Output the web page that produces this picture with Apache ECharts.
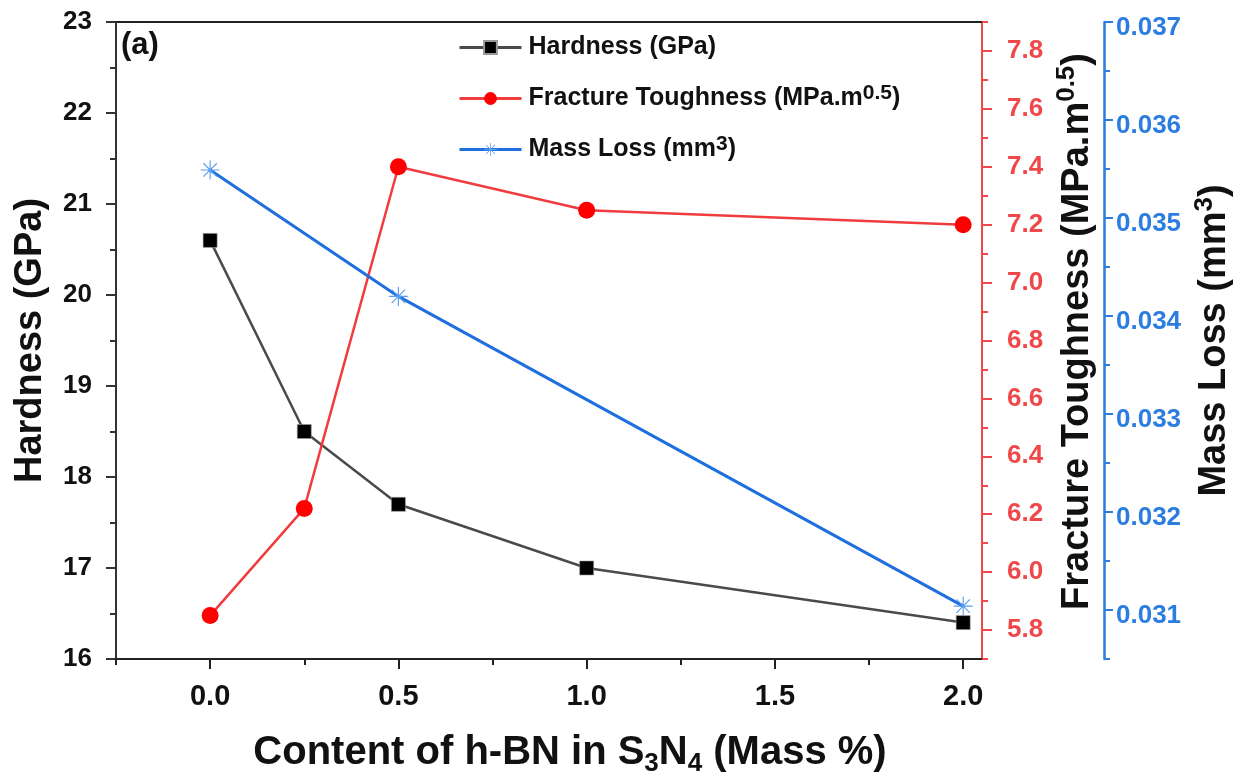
<!DOCTYPE html>
<html>
<head>
<meta charset="utf-8">
<title>Hardness / Fracture Toughness / Mass Loss</title>
<script src="https://cdn.jsdelivr.net/npm/echarts@6/dist/echarts.min.js"></script>
<style>
  html, body { margin: 0; padding: 0; background: #fff; }
</style>
</head>
<body>
<!-- container for the chart -->
<div id="main" style="width: 1234px;height: 776px;"></div>
<script>
// data
var contents = [0, 0.25, 0.5, 1.0, 2.0]
var hardness = [20.6, 18.5, 17.7, 17.0, 16.4]
var toughness = [5.85, 6.22, 7.40, 7.25, 7.20]
var massContents = [0, 0.5, 2.0]
var massLoss = [0.03549, 0.03420, 0.03104]

// tick values
var xMajorTicks = [0, 0.5, 1.0, 1.5, 2.0]
var xMinorTicks = [-0.25, 0.25, 0.75, 1.25, 1.75]
var redMajorTicks = [5.8, 6.0, 6.2, 6.4, 6.6, 6.8, 7.0, 7.2, 7.4, 7.6, 7.8]
var redMinorTicks = [5.7, 5.9, 6.1, 6.3, 6.5, 6.7, 6.9, 7.1, 7.3, 7.5, 7.7, 7.9]
var blueMajorTicks = [0.031, 0.032, 0.033, 0.034, 0.035, 0.036, 0.037]
var blueMinorTicks = [0.0305, 0.0315, 0.0325, 0.0335, 0.0345, 0.0355, 0.0365]

var FONT = "'Liberation Sans', Arial, sans-serif"
var BLACK = '#111'
var RED = '#f0484a'
var BLUE = '#2b7de0'

// asterisk marker
var STAR = 'path://M9.4 0L10.6 0L10.6 20L9.4 20Z M0 9.4L20 9.4L20 10.6L0 10.6Z M2.5 3.35L3.35 2.5L17.5 16.65L16.65 17.5Z M16.65 2.5L17.5 3.35L3.35 17.5L2.5 16.65Z'

function pairs (xs, ys) {
  return xs.map(function (x, i) { return [x, ys[i]] })
}

var legendText = {
  'Hardness (GPa)': 'Hardness (GPa)',
  'Fracture Toughness': 'Fracture Toughness (MPa.m{sup|0.5})',
  'Mass Loss': 'Mass Loss (mm{sup|3})'
}

var myChart = echarts.init(document.getElementById('main'))
var option = {
  animation: false,
  textStyle: { fontFamily: FONT },
  grid: {
    left: 116,
    right: 252,
    top: 22,
    bottom: 117,
    containLabel: false,
    outerBoundsMode: 'none'
  },
  legend: {
    orient: 'vertical',
    left: 453,
    top: 27,
    itemWidth: 62,
    itemHeight: 16,
    itemGap: 20,
    data: ['Hardness (GPa)', 'Fracture Toughness', 'Mass Loss'],
    formatter: function (name) { return legendText[name] },
    lineStyle: { width: 3 },
    textStyle: {
      fontFamily: FONT,
      fontSize: 25,
      fontWeight: 'bold',
      color: BLACK,
      lineHeight: 31,
      padding: [0, 0, 0, 2],
      rich: {
        sup: { fontFamily: FONT, fontSize: 21, fontWeight: 'bold', color: BLACK, lineHeight: 21, verticalAlign: 'top' }
      }
    }
  },
  graphic: [
    {
      type: 'text',
      left: 121,
      top: 30,
      style: { text: '(a)', fontFamily: FONT, fontSize: 31, fontWeight: 'bold', fill: BLACK }
    }
  ],
  xAxis: [
    {
      type: 'value',
      position: 'bottom',
      min: -0.25,
      max: 2.05,
      splitLine: { show: false },
      axisLine: { onZero: false, lineStyle: { color: '#222', width: 2 } },
      axisTick: { customValues: xMajorTicks, length: 10, lineStyle: { color: '#222', width: 2 } },
      axisLabel: {
        customValues: xMajorTicks,
        margin: 23,
        fontFamily: FONT,
        fontSize: 29,
        fontWeight: 'bold',
        color: BLACK,
        formatter: function (v) { return v.toFixed(1) }
      },
      name: 'Content of h-BN in S{sub|3}N{sub|4} (Mass %)',
      nameLocation: 'middle',
      nameGap: 70,
      nameTextStyle: {
        fontFamily: FONT,
        fontSize: 40,
        fontWeight: 'bold',
        color: BLACK,
        lineHeight: 48,
        padding: [0, 0, 0, 42],
        rich: {
          sub: { fontFamily: FONT, fontSize: 26, fontWeight: 'bold', color: BLACK, lineHeight: 26, verticalAlign: 'bottom' }
        }
      }
    },
    {
      // minor ticks of the bottom axis
      type: 'value',
      position: 'bottom',
      min: -0.25,
      max: 2.05,
      splitLine: { show: false },
      axisLine: { show: false, onZero: false },
      axisTick: { customValues: xMinorTicks, length: 6, lineStyle: { color: '#222', width: 2 } },
      axisLabel: { show: false }
    },
    {
      // top frame line
      type: 'value',
      position: 'top',
      min: -0.25,
      max: 2.05,
      splitLine: { show: false },
      axisLine: { onZero: false, lineStyle: { color: '#222', width: 2 } },
      axisTick: { show: false },
      axisLabel: { show: false }
    }
  ],
  yAxis: [
    {
      type: 'value',
      position: 'left',
      min: 16,
      max: 23,
      interval: 1,
      splitLine: { show: false },
      axisLine: { show: true, onZero: false, lineStyle: { color: '#333', width: 2 } },
      axisTick: { length: 10, lineStyle: { color: '#333', width: 2 } },
      minorTick: { show: true, splitNumber: 2, length: 6, lineStyle: { color: '#333', width: 2 } },
      axisLabel: { margin: 24, fontFamily: FONT, fontSize: 26, fontWeight: 'bold', color: BLACK },
      name: 'Hardness (GPa)',
      nameLocation: 'middle',
      nameRotate: 90,
      nameGap: 66,
      nameTextStyle: { fontFamily: FONT, fontSize: 38, fontWeight: 'bold', color: BLACK }
    },
    {
      type: 'value',
      position: 'right',
      min: 5.7,
      max: 7.9,
      alignTicks: false,
      splitLine: { show: false },
      axisLine: { show: true, onZero: false, lineStyle: { color: RED, width: 2 } },
      axisTick: { customValues: redMajorTicks, length: 10, lineStyle: { color: RED, width: 2 } },
      axisLabel: {
        customValues: redMajorTicks,
        margin: 25,
        fontFamily: FONT,
        fontSize: 26,
        fontWeight: 'bold',
        color: RED,
        formatter: function (v) { return v.toFixed(1) }
      },
      name: 'Fracture Toughness (MPa.m{sup|0.5})',
      nameLocation: 'middle',
      nameRotate: 90,
      nameGap: 56,
      nameTextStyle: {
        fontFamily: FONT,
        fontSize: 38,
        fontWeight: 'bold',
        color: BLACK,
        lineHeight: 46,
        padding: [0, 0, 0, 18],
        rich: {
          sup: { fontFamily: FONT, fontSize: 26, fontWeight: 'bold', color: BLACK, lineHeight: 26, verticalAlign: 'top' }
        }
      }
    },
    {
      // minor ticks of the red axis
      type: 'value',
      position: 'right',
      min: 5.7,
      max: 7.9,
      alignTicks: false,
      splitLine: { show: false },
      axisLine: { show: false, onZero: false },
      axisTick: { customValues: redMinorTicks, length: 6, lineStyle: { color: RED, width: 2 } },
      axisLabel: { show: false }
    },
    {
      type: 'value',
      position: 'right',
      offset: 122,
      min: 0.0305,
      max: 0.037,
      alignTicks: false,
      splitLine: { show: false },
      axisLine: { show: true, onZero: false, lineStyle: { color: BLUE, width: 2.5 } },
      axisTick: { customValues: blueMajorTicks, length: 9, lineStyle: { color: BLUE, width: 2 } },
      axisLabel: {
        customValues: blueMajorTicks,
        margin: 12,
        verticalAlign: 'top',
        lineHeight: 12,
        fontFamily: FONT,
        fontSize: 26,
        fontWeight: 'bold',
        color: BLUE,
        formatter: function (v) { return v.toFixed(3) }
      },
      name: 'Mass Loss (mm{sup|3})',
      nameLocation: 'middle',
      nameRotate: 90,
      nameGap: 75,
      nameTextStyle: {
        fontFamily: FONT,
        fontSize: 38,
        fontWeight: 'bold',
        color: BLACK,
        lineHeight: 46,
        rich: {
          sup: { fontFamily: FONT, fontSize: 26, fontWeight: 'bold', color: BLACK, lineHeight: 26, verticalAlign: 'top' }
        }
      }
    },
    {
      // minor ticks of the blue axis
      type: 'value',
      position: 'right',
      offset: 122,
      min: 0.0305,
      max: 0.037,
      alignTicks: false,
      splitLine: { show: false },
      axisLine: { show: false, onZero: false },
      axisTick: { customValues: blueMinorTicks, length: 6, lineStyle: { color: BLUE, width: 2 } },
      axisLabel: { show: false }
    }
  ],
  series: [
    {
      name: 'Hardness (GPa)',
      type: 'line',
      xAxisIndex: 0,
      yAxisIndex: 0,
      symbol: 'rect',
      symbolSize: 14,
      itemStyle: { color: '#000', borderColor: '#999', borderWidth: 0.6 },
      lineStyle: { color: '#4a4a4a', width: 2.5 },
      data: pairs(contents, hardness)
    },
    {
      name: 'Fracture Toughness',
      type: 'line',
      xAxisIndex: 0,
      yAxisIndex: 1,
      symbol: 'circle',
      symbolSize: 17,
      itemStyle: { color: '#ff0000' },
      lineStyle: { color: '#f03c3e', width: 2.5 },
      data: pairs(contents, toughness)
    },
    {
      name: 'Mass Loss',
      type: 'line',
      xAxisIndex: 0,
      yAxisIndex: 3,
      symbol: STAR,
      symbolSize: 19,
      itemStyle: { color: '#5a9cee' },
      lineStyle: { color: '#1f6fde', width: 3 },
      data: pairs(massContents, massLoss)
    }
  ]
}
myChart.setOption(option)
</script>
</body>
</html>
